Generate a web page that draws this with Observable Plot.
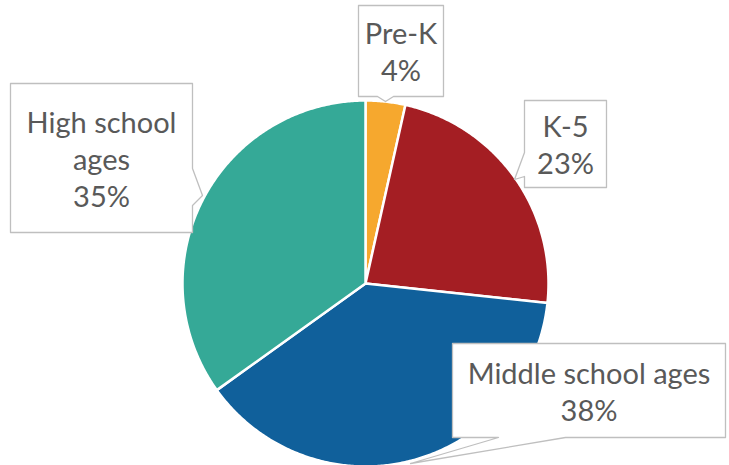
<!DOCTYPE html>
<html>
<head>
<meta charset="utf-8">
<script src="https://cdn.jsdelivr.net/npm/d3@7"></script>
<script src="https://cdn.jsdelivr.net/npm/@observablehq/plot@0.6"></script>
<style>
  html, body { margin: 0; padding: 0; background: #ffffff; }
  #chart svg { display: block; }
</style>
</head>
<body>
<div id="chart"></div>
<script>
// ---- data ----
const categories = ["Pre-K", "K-5", "Middle school ages", "High school ages"];
const values = [3.5, 23.2, 38.4, 34.9];
const labelNames = ["Pre-K", "K-5", "Middle school ages", "High school\nages"];
const colors = ["#F6A82E", "#A41E23", "#10609B", "#35A997"];

// ---- layout ----
const W = 729, H = 465;
const cx = 365, cy = 283, R = 183;
// callout boxes: [x0, y0, x1, y1], pointer side and points
const callouts = [
  {box: [358, 5, 443, 96], pointer: {side: "bottom", a: [377, 96], tip: [385, 101], b: [393, 96]}},
  {box: [524, 100, 606, 187], pointer: {side: "left", a: [524, 176], tip: [514, 179], b: [524, 152]}},
  {box: [452, 343, 725, 437], pointer: {side: "bottom", a: [498, 437], tip: [410, 463], b: [565, 437]}},
  {box: [10, 83, 192, 232], pointer: {side: "right", a: [192, 168], tip: [202, 195], b: [192, 205]}}
];

const total = d3.sum(values);
const pie = d3.pie().sort(null).value(d => d)(values);

// slice polygons
const slices = [];
pie.forEach((p, i) => {
  const n = Math.max(2, Math.ceil((p.endAngle - p.startAngle) / (Math.PI / 360)));
  slices.push({name: categories[i], x: cx, y: cy});
  for (let k = 0; k <= n; k++) {
    const a = p.startAngle + (p.endAngle - p.startAngle) * k / n;
    slices.push({name: categories[i], x: cx + R * Math.sin(a), y: cy - R * Math.cos(a)});
  }
  slices.push({name: categories[i], x: cx, y: cy});
});

// callout polygons
function calloutPoly(c, id) {
  const [x0, y0, x1, y1] = c.box;
  const p = c.pointer;
  let pts;
  if (p.side === "bottom") {
    pts = [[x0, y0], [x1, y0], [x1, y1], [Math.max(p.a[0], p.b[0]), y1], p.tip, [Math.min(p.a[0], p.b[0]), y1], [x0, y1], [x0, y0]];
  } else if (p.side === "left") {
    pts = [[x0, y0], [x1, y0], [x1, y1], [x0, y1], p.a, p.tip, p.b, [x0, y0]];
  } else {
    pts = [[x0, y0], [x1, y0], p.a, p.tip, p.b, [x1, y1], [x0, y1], [x0, y0]];
  }
  return pts.map(([x, y]) => ({id, x, y}));
}
const boxes = callouts.flatMap((c, i) => calloutPoly(c, categories[i]));

const labels = categories.map((c, i) => {
  const b = callouts[i].box;
  return {
    text: labelNames[i] + "\n" + Math.round(values[i] / total * 100) + "%",
    x: (b[0] + b[2]) / 2,
    y: (b[1] + b[3]) / 2
  };
});

const chart = Plot.plot({
  width: W,
  height: H,
  margin: 0,
  x: {domain: [0, W], range: [0, W], axis: null},
  y: {domain: [0, H], range: [0, H], axis: null},
  color: {domain: categories, range: colors},
  style: {background: "#ffffff"},
  marks: [
    Plot.line(slices, {x: "x", y: "y", z: "name", fill: "name", stroke: "#ffffff", strokeWidth: 2.5, strokeLinejoin: "round", curve: "linear"}),
    Plot.line(boxes, {x: "x", y: "y", z: "id", fill: "#ffffff", stroke: "#bfbfbf", strokeWidth: 1.3, curve: "linear"}),
    Plot.text(labels, {x: "x", y: "y", text: "text", fill: "#595959", fontSize: 29, fontFamily: "Lato, 'Open Sans', sans-serif", lineHeight: 1.28, textAnchor: "middle", lineAnchor: "middle"})
  ]
});
document.getElementById("chart").appendChild(chart);
</script>
</body>
</html>
